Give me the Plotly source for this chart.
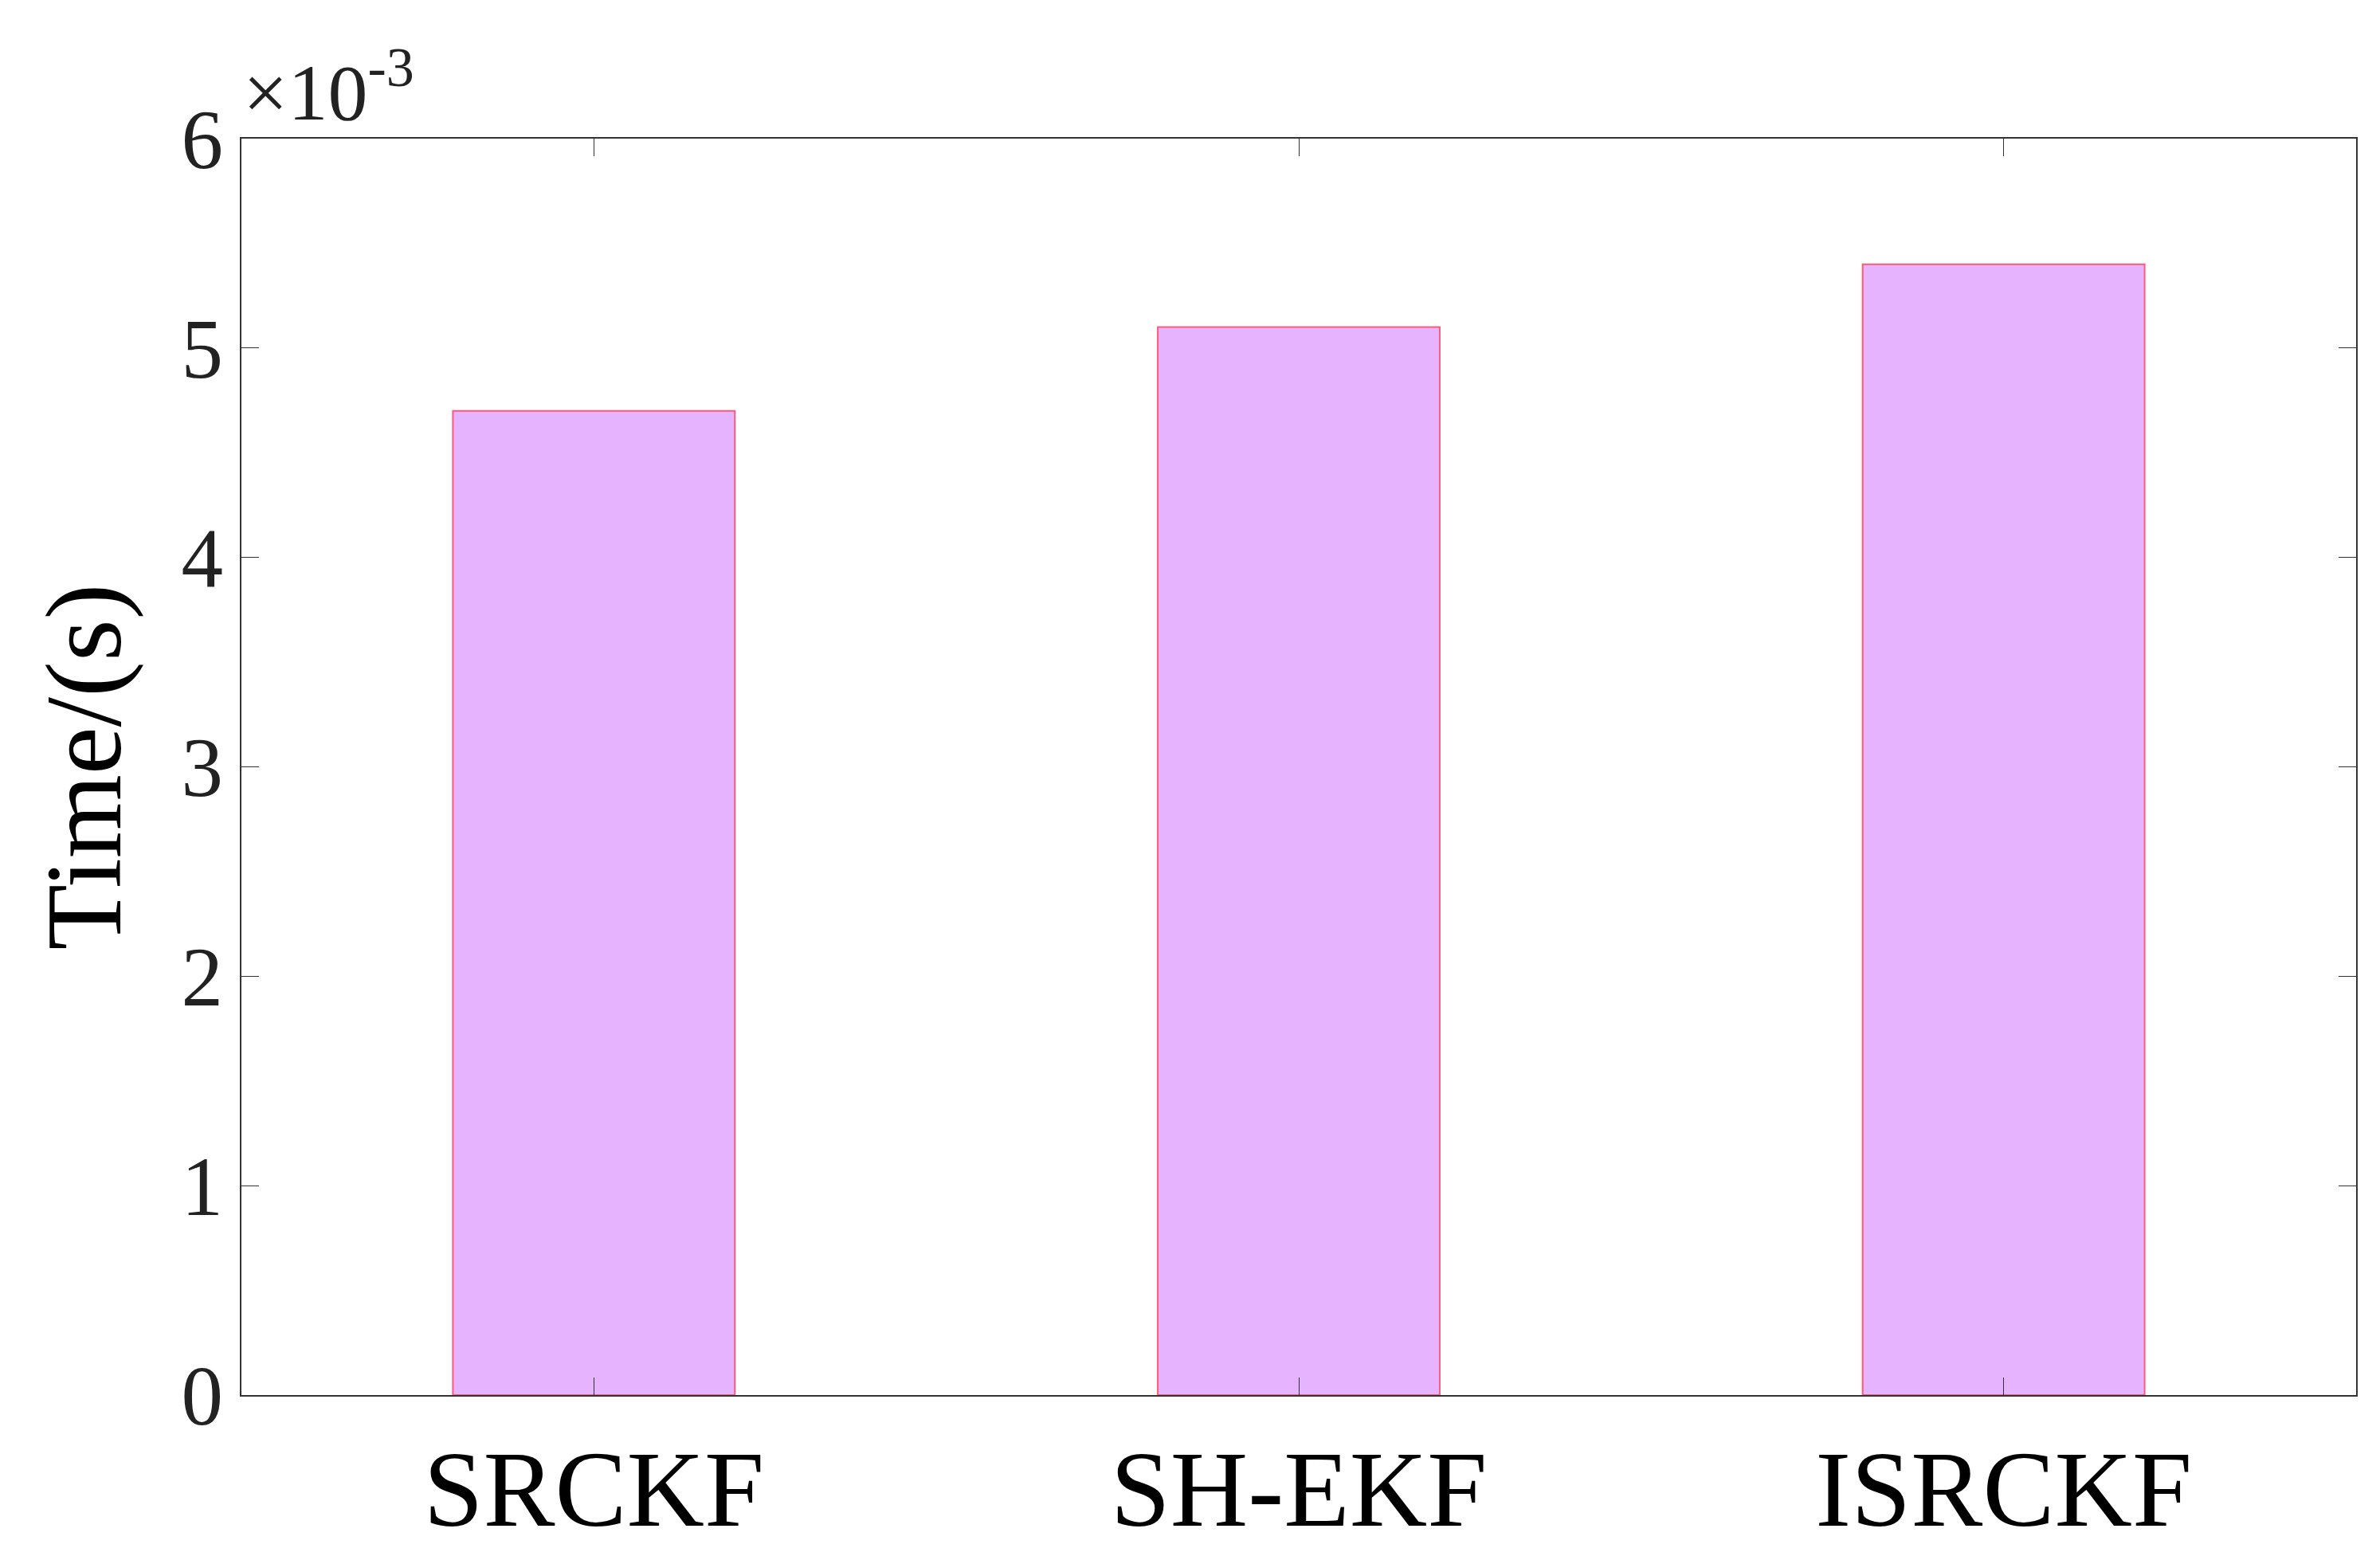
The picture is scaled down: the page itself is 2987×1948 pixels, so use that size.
import plotly.graph_objects as go

categories = ["SRCKF", "SH-EKF", "ISRCKF"]
times = [4.70e-3, 5.10e-3, 5.40e-3]
ytick_vals = [0, 1e-3, 2e-3, 3e-3, 4e-3, 5e-3, 6e-3]
ytick_text = ["0", "1", "2", "3", "4", "5", "6"]

font = "Liberation Serif"
fig = go.Figure(go.Bar(
    x=categories, y=times, width=0.4,
    marker=dict(color="#E6B3FF", line=dict(color="#FF5A7A", width=2)),
))
fig.update_layout(
    width=2987, height=1948, plot_bgcolor="white", paper_bgcolor="white",
    margin=dict(l=295, r=38, t=166, b=157),
    showlegend=False,
    font=dict(family=font, size=105, color="#222"),
)
fig.update_xaxes(range=[-0.5, 2.5], showline=True, linecolor="#333", linewidth=2,
                 mirror="ticks", ticks="inside", ticklen=22, tickcolor="#333",
                 tickfont=dict(size=135, color="black"))
fig.update_yaxes(range=[0, 6e-3], tickvals=ytick_vals, ticktext=ytick_text,
                 showline=True, linecolor="#333", linewidth=2, mirror="ticks",
                 ticks="inside", ticklen=22, tickcolor="#333", showgrid=False,
                 zeroline=False, tickfont=dict(size=105, color="#222"),
                 title=dict(text="Time/(s)", font=dict(size=135, color="black"), standoff=30))
fig.add_annotation(xref="paper", yref="paper", x=0.0, y=1.0, xanchor="left", yanchor="bottom",
                   text="×10<sup>-3</sup>", showarrow=False, xshift=0, yshift=0,
                   font=dict(size=100, color="#222"))
fig.write_html("out.html")
